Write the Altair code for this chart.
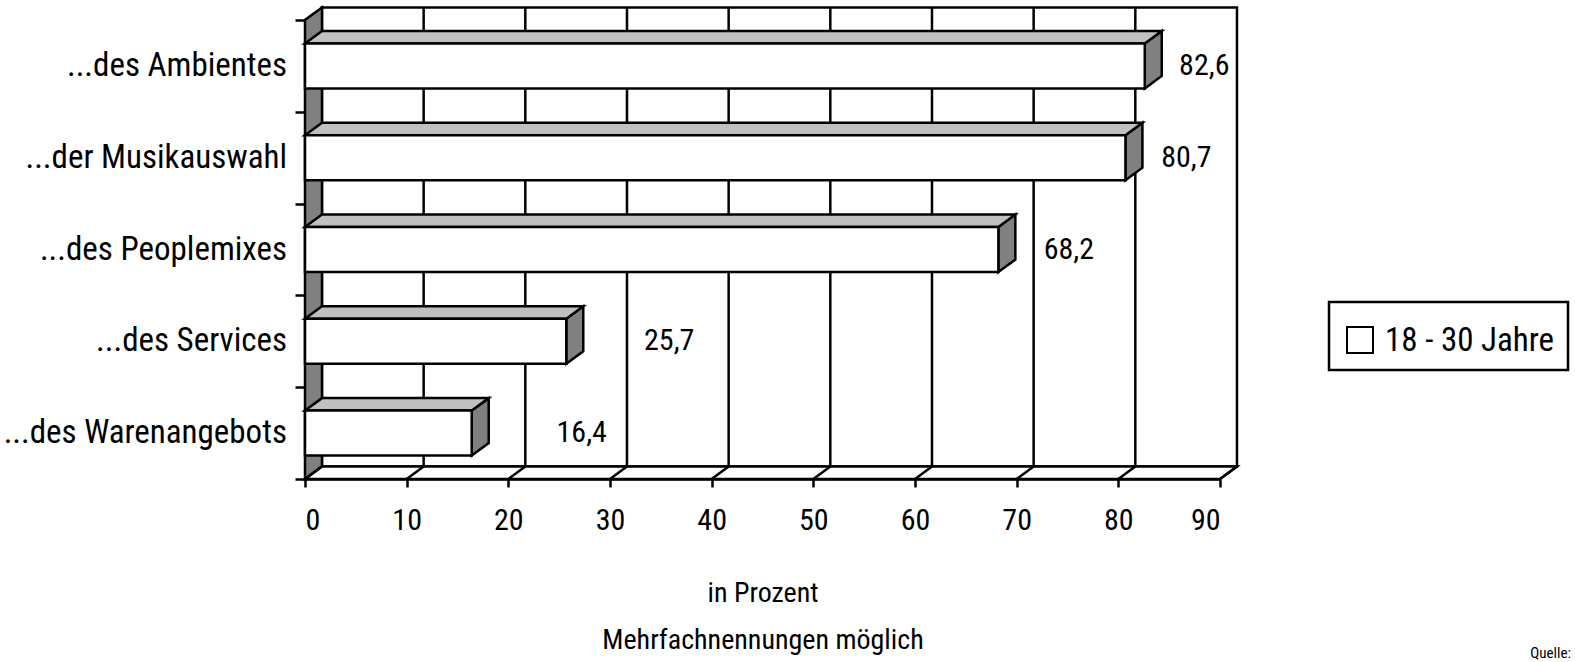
import altair as alt
import pandas as pd

# Survey answers: share of respondents (18-30) naming each reason, in percent
categories = [
    "...des Ambientes",
    "...der Musikauswahl",
    "...des Peoplemixes",
    "...des Services",
    "...des Warenangebots",
]
values = [82.6, 80.7, 68.2, 25.7, 16.4]
series_name = "18 - 30 Jahre"
x_ticks = [0, 10, 20, 30, 40, 50, 60, 70, 80, 90]
x_title = ["in Prozent", "Mehrfachnennungen möglich"]
source_note = "Quelle:"

# Pseudo-3D projection of the chart box (back plane shift in data units)
DX = 1.67      # horizontal shift, percent units
DY = 0.136     # vertical shift, row units
BAR_LO, BAR_HI = 0.255, 0.745
N = len(categories)
XMAX = x_ticks[-1]

FONT = "Liberation Sans Narrow, Roboto Condensed, DejaVu Sans Condensed, Liberation Sans, sans-serif"
LW = 2.5
DARK = "#808080"
LIGHT = "#c0c0c0"

rows = [N - 1 - i for i in range(N)]
bars = pd.DataFrame({
    "cat": categories,
    "value": values,
    "zero": [0.0] * N,
    "y0": [r + BAR_LO for r in rows],
    "y1": [r + BAR_HI for r in rows],
    "ymid": [r + 0.5 for r in rows],
    "label": [f"{v:.1f}".replace(".", ",") for v in values],
})

top_faces = pd.DataFrame(
    [dict(cat=c, y=y1, xa=0.0, xb=v) for c, v, y1 in zip(categories, values, bars["y1"])]
    + [dict(cat=c, y=y1 + DY, xa=DX, xb=v + DX) for c, v, y1 in zip(categories, values, bars["y1"])]
)
side_faces = pd.DataFrame(
    [dict(cat=c, x=v, ya=y0, yb=y1) for c, v, y0, y1 in zip(categories, values, bars["y0"], bars["y1"])]
    + [dict(cat=c, x=v + DX, ya=y0 + DY, yb=y1 + DY) for c, v, y0, y1 in zip(categories, values, bars["y0"], bars["y1"])]
)
left_wall = pd.DataFrame([dict(x=0.0, ya=0.0, yb=float(N)), dict(x=DX, ya=DY, yb=N + DY)])
floor = pd.DataFrame([dict(y=0.0, xa=0.0, xb=float(XMAX)), dict(y=DY, xa=DX, xb=XMAX + DX)])
back_wall = pd.DataFrame([dict(xa=DX, xb=XMAX + DX, ya=DY, yb=N + DY)])
grid = pd.DataFrame({"x": [t + DX for t in x_ticks[1:-1]], "ya": DY, "yb": N + DY})
floor_ticks = pd.DataFrame({"xa": x_ticks, "xb": [t + DX for t in x_ticks], "ya": 0.0, "yb": DY})

xscale = alt.Scale(domain=[0, XMAX], nice=False, zero=False)
yscale = alt.Scale(domain=[0, N], nice=False, zero=False)
x_axis = alt.Axis(
    values=x_ticks, format="d", grid=False, domainWidth=LW, domainColor="black",
    tickSize=8, tickWidth=LW, tickColor="black", labelFontSize=30, labelFont=FONT,
    labelColor="black", labelPadding=18, title=x_title, titleFont=FONT, titleFontSize=28,
    titleFontWeight="normal", titleColor="black", titleLineHeight=47, titlePadding=44,
)
y_axis = alt.Axis(
    values=list(range(N + 1)), grid=False, labels=False, domainWidth=LW, domainColor="black",
    tickSize=10, tickWidth=LW, tickColor="black", title=None,
)


def X(field):
    return alt.X(field, type="quantitative", scale=xscale, axis=x_axis)


def Y(field):
    return alt.Y(field, type="quantitative", scale=yscale, axis=y_axis)


wall = alt.Chart(back_wall).mark_rect(fill="white", stroke="black", strokeWidth=LW).encode(
    x=X("xa"), x2="xb", y=Y("ya"), y2="yb"
)
grid_lines = alt.Chart(grid).mark_rule(color="black", strokeWidth=LW).encode(
    x=X("x"), y=Y("ya"), y2="yb"
)
left = alt.Chart(left_wall).mark_area(
    orient="vertical", fill=DARK, stroke="black", strokeWidth=LW, strokeJoin="miter"
).encode(x=X("x"), y=Y("ya"), y2="yb")
floor_layer = alt.Chart(floor).mark_area(
    orient="horizontal", fill="white", stroke="black", strokeWidth=LW, strokeJoin="miter"
).encode(y=Y("y"), x=X("xa"), x2="xb")
floor_tick_layer = alt.Chart(floor_ticks).mark_rule(color="black", strokeWidth=LW).encode(
    x=X("xa"), x2="xb", y=Y("ya"), y2="yb"
)
tops = alt.Chart(top_faces).mark_area(
    orient="horizontal", fill=LIGHT, stroke="black", strokeWidth=LW, strokeJoin="miter"
).encode(y=Y("y"), x=X("xa"), x2="xb", detail="cat:N")
sides = alt.Chart(side_faces).mark_area(
    orient="vertical", fill=DARK, stroke="black", strokeWidth=LW, strokeJoin="miter"
).encode(x=X("x"), y=Y("ya"), y2="yb", detail="cat:N")
fronts = alt.Chart(bars).mark_rect(fill="white", stroke="black", strokeWidth=LW).encode(
    x=X("zero"), x2="value", y=Y("y0"), y2="y1"
)
value_labels = alt.Chart(bars).transform_calculate(
    lx="datum.value + 5.3 + 0.075 * (90 - datum.value)"
).mark_text(font=FONT, fontSize=30, color="black", align="center", baseline="middle").encode(
    x=X("lx"), y=Y("ymid"), text="label:N"
)
cat_labels = alt.Chart(bars).mark_text(
    font=FONT, fontSize=33, color="black", align="right", baseline="middle"
).encode(x=alt.value(-18), y=Y("ymid"), text="cat:N")

legend_df = pd.DataFrame({"name": [series_name]})
legend_box = alt.Chart(legend_df).mark_rect(fill="white", stroke="black", strokeWidth=LW).encode(
    x=alt.value(1024), x2=alt.value(1263), y=alt.value(282), y2=alt.value(350)
)
legend_swatch = alt.Chart(legend_df).mark_rect(fill="white", stroke="black", strokeWidth=2).encode(
    x=alt.value(1042), x2=alt.value(1068), y=alt.value(307), y2=alt.value(333)
)
legend_text = alt.Chart(legend_df).mark_text(
    font=FONT, fontSize=33, color="black", align="left", baseline="middle"
).encode(x=alt.value(1080), y=alt.value(321), text="name:N")

note = alt.Chart(pd.DataFrame({"t": [source_note]})).mark_text(
    font=FONT, fontSize=15, color="black", align="right", baseline="alphabetic"
).encode(x=alt.value(1266), y=alt.value(638), text="t:N")

chart = alt.layer(
    wall, grid_lines, left, floor_layer, floor_tick_layer,
    sides, tops, fronts, value_labels, cat_labels,
    legend_box, legend_swatch, legend_text, note,
).properties(
    width=915, height=459,
    autosize=alt.AutoSizeParams(type="none"),
    padding={"left": 305, "top": 20, "right": 355, "bottom": 183},
    background="white",
).configure_view(stroke=None)

chart.save("out.html", embed_options={"renderer": "svg", "actions": False})
